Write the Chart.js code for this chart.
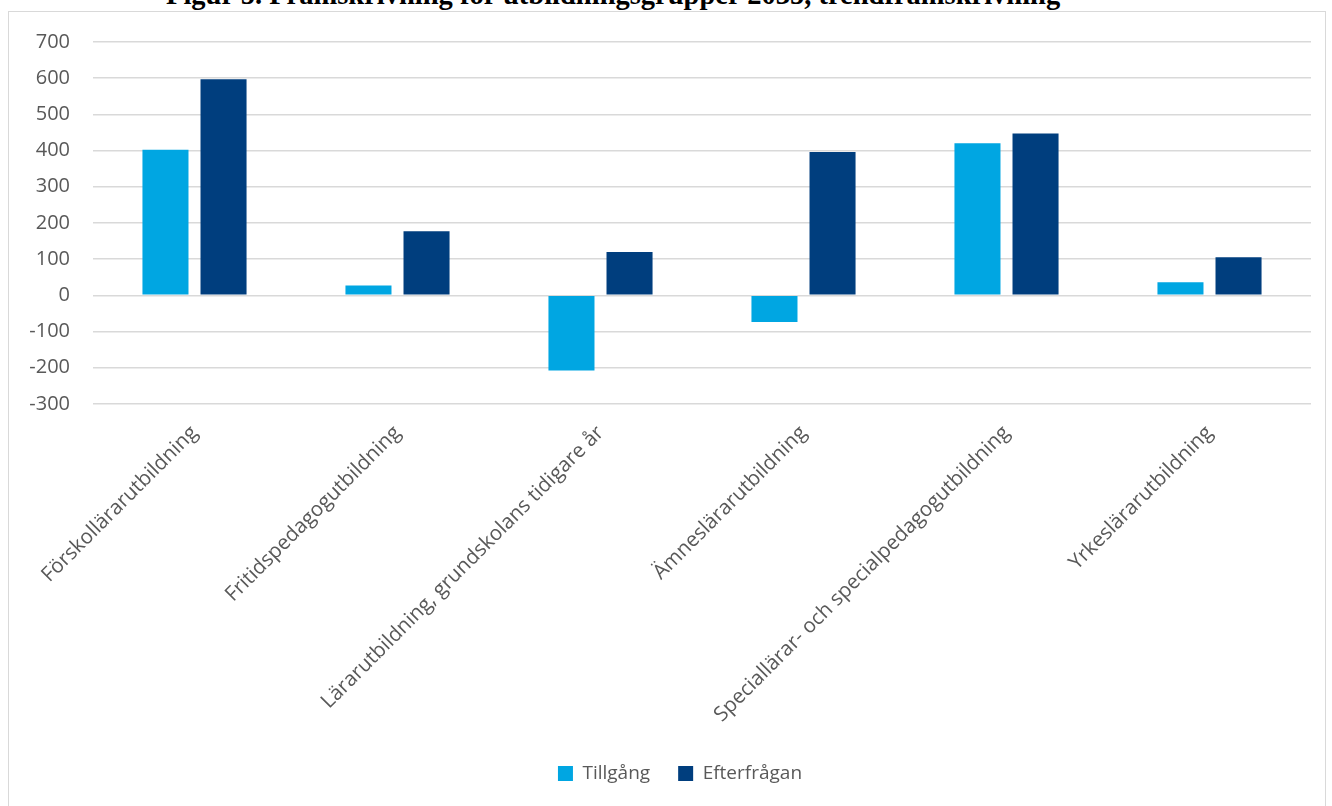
<!DOCTYPE html>
<html>
<head>
  <meta charset="UTF-8">
  <title>Figur 5</title>
  <script src="https://cdn.jsdelivr.net/npm/chart.js"></script>
  <style>
    body {
      margin: 0;
      background-color: #fff;
      overflow: hidden;
    }
    #title {
      position: absolute;
      left: 166px;
      top: -20px;
      font-family: "Liberation Serif", serif;
      font-weight: bold;
      font-size: 28.5px;
      line-height: 30px;
      white-space: nowrap;
      color: #000;
    }
    #chartContainer {
      position: absolute;
      left: 8px;
      top: 11px;
      width: 1316px;
      height: 800px;
      border: 1px solid #d9d9d9;
      background-color: #fff;
      overflow: hidden;
    }
    #chartInner {
      position: absolute;
      left: 0;
      top: -5px;
      width: 100%;
      height: 805px;
    }
  </style>
</head>
<body>
  <div id="title">Figur 5. Framskrivning för utbildningsgrupper 2035, trendframskrivning</div>
  <div id="chartContainer">
    <div id="chartInner">
      <canvas id="chart"></canvas>
    </div>
  </div>
  <script>
    const categories = [
      'Förskollärarutbildning',
      'Fritidspedagogutbildning',
      'Lärarutbildning, grundskolans tidigare år',
      'Ämneslärarutbildning',
      'Speciallärar- och specialpedagogutbildning',
      'Yrkeslärarutbildning'
    ];
    const tillgang = [402, 27, -208, -74, 420, 36];
    const efterfragan = [597, 177, 120, 396, 447, 105];

    // legend sits a bit right of centre in the original
    const legendShift = {
      id: 'legendShift',
      afterLayout(chart) {
        chart.legend.left += 20;
        chart.legend.right += 20;
      }
    };

    const ctx = document.getElementById('chart').getContext('2d');
    new Chart(ctx, {
      type: 'bar',
      data: {
        labels: categories,
        datasets: [{
          label: 'Tillgång',
          data: tillgang,
          backgroundColor: '#00a6e2',
          categoryPercentage: 0.572,
          barPercentage: 0.793
        }, {
          label: 'Efterfrågan',
          data: efterfragan,
          backgroundColor: '#003e7e',
          categoryPercentage: 0.572,
          barPercentage: 0.793
        }]
      },
      plugins: [legendShift],
      options: {
        responsive: true,
        maintainAspectRatio: false,
        animation: false,
        layout: { padding: { left: 0, right: 14, top: 0, bottom: 19 } },
        plugins: {
          tooltip: { enabled: false },
          legend: {
            position: 'bottom',
            labels: {
              color: '#595959',
              font: { family: 'Open Sans', size: 19 },
              boxWidth: 15,
              boxHeight: 15,
              padding: 28
            }
          }
        },
        scales: {
          x: {
            grid: { display: false },
            border: { display: false },
            ticks: {
              color: '#595959',
              font: { family: 'Open Sans', size: 20.5 },
              maxRotation: 45,
              minRotation: 45,
              autoSkip: false,
              padding: 9
            }
          },
          y: {
            min: -300,
            max: 700,
            border: { display: false },
            grid: { color: '#d9d9d9', lineWidth: 1.5, drawTicks: false },
            afterFit: (axis) => { axis.width = 84; },
            ticks: {
              stepSize: 100,
              padding: 23,
              color: '#595959',
              font: { family: 'Open Sans', size: 20 }
            }
          }
        }
      }
    });
  </script>
</body>
</html>
